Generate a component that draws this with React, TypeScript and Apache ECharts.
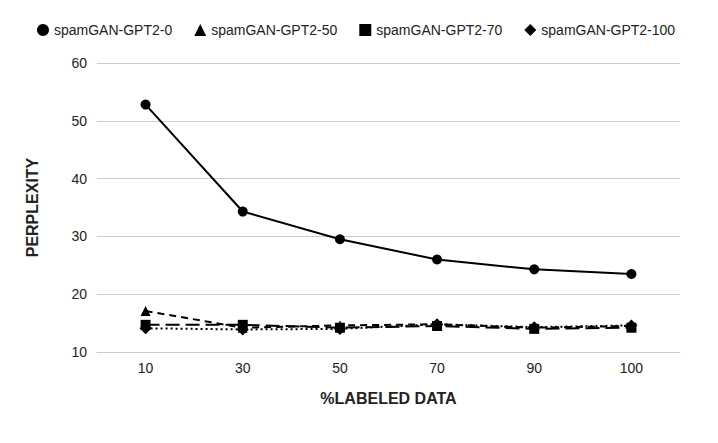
import React, { useEffect, useRef } from "react";
import * as echarts from "echarts";

const categories = ["10", "30", "50", "70", "90", "100"];
const gpt2_0 = [52.8, 34.3, 29.5, 26.0, 24.3, 23.5];
const gpt2_50 = [17.1, 14.2, 14.6, 14.8, 14.2, 14.5];
const gpt2_70 = [14.7, 14.7, 14.2, 14.5, 14.0, 14.2];
const gpt2_100 = [14.1, 13.9, 14.0, 14.8, 14.3, 14.6];

const seriesNames = ["spamGAN-GPT2-0", "spamGAN-GPT2-50", "spamGAN-GPT2-70", "spamGAN-GPT2-100"];

export default function App() {
  const ref = useRef<HTMLDivElement>(null);
  useEffect(() => {
    if (!ref.current) return;
    const chart = echarts.init(ref.current, null, { renderer: "svg" });
    const font = "'Liberation Sans', Arial, sans-serif";
    const mk = (name: string, data: number[], symbol: string, size: number, type: any) => ({
      name,
      type: "line",
      data,
      symbol,
      symbolSize: size,
      lineStyle: { color: "#000", width: 2, type },
      itemStyle: { color: "#000" },
      z: 3,
    });
    chart.setOption({
      animation: false,
      textStyle: { fontFamily: font },
      legend: {
        top: 10,
        left: 24,
        itemGap: 22,
        itemWidth: 12,
        itemHeight: 12,
        textStyle: { fontFamily: font, fontSize: 14, color: "#222" },
        data: [
          { name: seriesNames[0], icon: "circle" },
          { name: seriesNames[1], icon: "triangle" },
          { name: seriesNames[2], icon: "rect" },
          { name: seriesNames[3], icon: "diamond" },
        ],
      },
      grid: { left: 89, right: 30, top: 55, bottom: 83 },
      xAxis: {
        type: "category",
        data: categories,
        boundaryGap: true,
        name: "%LABELED DATA",
        nameLocation: "middle",
        nameGap: 38,
        nameTextStyle: { fontFamily: font, fontSize: 16, fontWeight: "bold", color: "#222" },
        axisLine: { lineStyle: { color: "#ccc" } },
        axisTick: { show: false },
        axisLabel: { fontFamily: font, fontSize: 14, color: "#222", margin: 9 },
      },
      yAxis: {
        type: "value",
        min: 10,
        max: 60,
        interval: 10,
        name: "PERPLEXITY",
        nameLocation: "middle",
        nameGap: 57,
        nameTextStyle: { fontFamily: font, fontSize: 16, fontWeight: "bold", color: "#222" },
        axisLine: { show: false },
        axisTick: { show: false },
        splitLine: { lineStyle: { color: "#ccc" } },
        axisLabel: { fontFamily: font, fontSize: 14, color: "#222", margin: 10 },
      },
      series: [
        mk(seriesNames[0], gpt2_0, "circle", 10, "solid"),
        mk(seriesNames[1], gpt2_50, "triangle", 10, [7, 5]),
        mk(seriesNames[2], gpt2_70, "rect", 10, [14, 6]),
        mk(seriesNames[3], gpt2_100, "diamond", 12, [2, 3]),
      ],
    });
    return () => chart.dispose();
  }, []);
  return <div ref={ref} style={{ width: 702, height: 427 }} />;
}
